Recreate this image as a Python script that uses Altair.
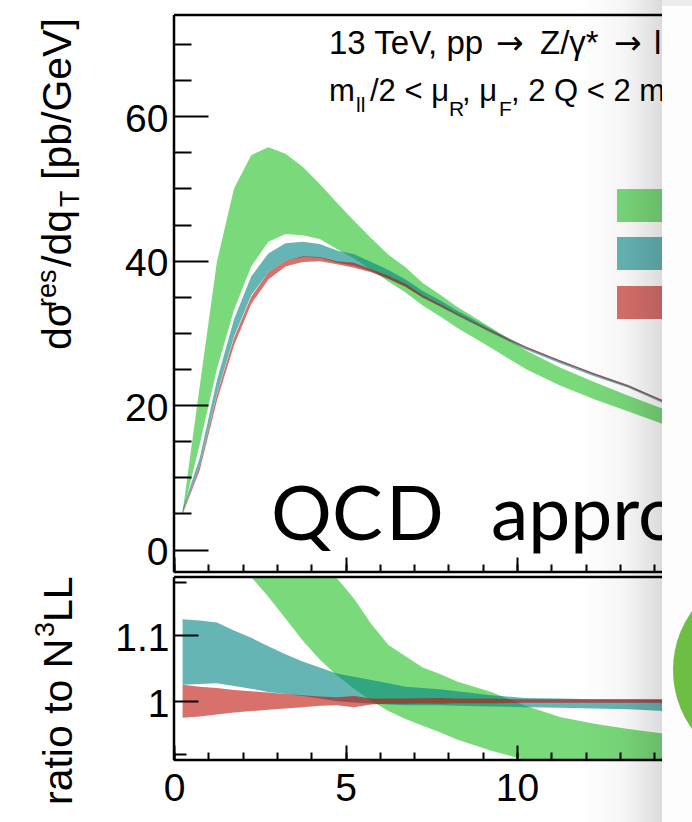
import altair as alt
import pandas as pd

# ---------------- data ----------------
Q = [0.25, 0.75, 1.25, 1.75, 2.25, 2.75, 3.25, 3.75, 4.25, 4.75, 5.25, 5.75,
     6.25, 6.75, 7.25, 7.75, 8.25, 9.25, 10.25, 11.25, 12.25, 13.25, 14.25, 15.25]

# upper panel: d sigma / d qT  [pb/GeV]
GREEN_LO = [4.9, 14.6, 25.0, 33.2, 39.2, 42.6, 43.7, 43.5, 43.0, 41.6, 40.3, 38.7,
            37.1, 35.6, 33.8, 32.3, 30.7, 27.9, 25.0, 22.7, 20.8, 19.1, 17.4, 16.0]
GREEN_HI = [5.2, 22.6, 39.8, 50.0, 54.6, 55.7, 54.8, 53.0, 50.6, 48.0, 45.5, 43.1,
            40.8, 39.1, 36.9, 35.3, 33.6, 30.7, 27.6, 25.2, 23.2, 21.3, 19.5, 18.0]
TEAL_LO = [5.1, 11.6, 21.5, 29.5, 35.2, 38.4, 40.0, 40.5, 40.4, 39.7, 39.3, 38.5,
           37.5, 36.4, 34.9, 33.7, 32.4, 30.0, 27.7, 25.8, 24.0, 22.4, 20.3, 18.8]
TEAL_HI = [5.6, 12.7, 23.4, 31.9, 37.8, 41.0, 42.4, 42.6, 42.3, 41.4, 40.9, 39.8,
           38.7, 37.4, 35.8, 34.5, 33.1, 30.5, 28.1, 26.2, 24.4, 22.8, 20.65, 19.1]
RED_LO = [4.9, 11.0, 20.6, 28.3, 34.0, 37.4, 39.2, 39.8, 39.9, 39.5, 39.0, 38.4,
          37.5, 36.4, 34.9, 33.7, 32.5, 30.1, 27.9, 26.0, 24.2, 22.5, 20.5, 18.9]
RED_HI = [5.1, 11.6, 21.4, 29.3, 35.0, 38.4, 40.0, 40.6, 40.5, 39.9, 39.7, 38.8,
          37.9, 36.8, 35.2, 34.0, 32.7, 30.3, 28.1, 26.2, 24.4, 22.7, 20.7, 19.1]

# lower panel: ratio to N3LL
R_GREEN_LO = [1.60, 1.40, 1.30, 1.24, 1.19, 1.158, 1.125, 1.092, 1.063, 1.039, 1.019, 1.0005,
              0.985, 0.973, 0.963, 0.953, 0.942, 0.925, 0.902, 0.885, 0.875, 0.865, 0.855, 0.848]
R_GREEN_HI = [2.60, 2.10, 1.80, 1.62, 1.50, 1.38, 1.30, 1.25, 1.21, 1.186, 1.155, 1.117,
              1.085, 1.068, 1.051, 1.041, 1.030, 1.014, 0.993, 0.976, 0.966, 0.958, 0.951, 0.946]
R_TEAL_LO = [1.025, 1.026, 1.027, 1.023, 1.019, 1.014, 1.011, 1.008, 1.004, 1.000, 0.998, 0.9965,
             0.995, 0.994, 0.994, 0.994, 0.993, 0.992, 0.991, 0.990, 0.989, 0.988, 0.985, 0.983]
R_TEAL_HI = [1.124, 1.122, 1.119, 1.107, 1.096, 1.083, 1.071, 1.060, 1.051, 1.042, 1.037, 1.032,
             1.027, 1.022, 1.020, 1.018, 1.015, 1.009, 1.005, 1.004, 1.003, 1.003, 1.0025, 1.002]
R_RED_LO = [0.975, 0.977, 0.980, 0.983, 0.985, 0.987, 0.989, 0.991, 0.993, 0.994, 0.991, 0.995,
            0.996, 0.996, 0.9965, 0.996, 0.997, 0.997, 0.9975, 0.9975, 0.9975, 0.9975, 0.9975, 0.9975]
R_RED_HI = [1.025, 1.022, 1.020, 1.017, 1.015, 1.013, 1.011, 1.009, 1.007, 1.006, 1.008, 1.004,
            1.004, 1.004, 1.0045, 1.005, 1.004, 1.004, 1.003, 1.003, 1.003, 1.003, 1.003, 1.003]

X_MAJOR = [0, 5, 10]
X_MINOR = list(range(0, 15))
YU_MAJOR = [0, 20, 40, 60]
YU_MINOR = [5, 10, 15, 25, 30, 35, 45, 50, 55, 65, 70]
YL_MAJOR = [1.0, 1.1]
YL_MINOR = [0.92, 0.94, 0.96, 0.98, 1.02, 1.04, 1.06, 1.08, 1.12, 1.14, 1.16, 1.18]

COL_GREEN, COL_TEAL, COL_RED = "#21c021", "#008484", "#be110a"
ALPHA = 0.6

# ---------------- layout ----------------
W, H = 518, 745
U_TOP, U_BOT = 0, 557
L_TOP, L_BOT = 562, 745
XMAX = 15.10
SANS = "Liberation Sans"
ONE = pd.DataFrame({"k": [0]})

xs = alt.Scale(domain=[0, XMAX], nice=False, zero=False)


def yU():
    return alt.Scale(domain=[-3.1, 74.0], range=[U_BOT, U_TOP], nice=False, zero=False)


def yL():
    return alt.Scale(domain=[0.911, 1.188], range=[L_BOT, L_TOP], nice=False, zero=False, clamp=True)


def band(lo, hi, color, scale_fn):
    df = pd.DataFrame({"q": Q, "lo": lo, "hi": hi})
    return alt.Chart(df).mark_area(color=color, opacity=ALPHA, interpolate="linear").encode(
        x=alt.X("q:Q", scale=xs, axis=None),
        y=alt.Y("lo:Q", scale=scale_fn(), axis=None),
        y2="hi:Q",
    )


def rule(x, y, x2=None, y2=None, width=2.5):
    enc = dict(x=alt.value(x), y=alt.value(y))
    if x2 is not None:
        enc["x2"] = alt.value(x2)
    if y2 is not None:
        enc["y2"] = alt.value(y2)
    return alt.Chart(ONE).mark_rule(color="black", strokeWidth=width).encode(**enc)


def text(t, x, y, size, angle=None, font=SANS):
    kw = dict(text=t, font=font, fontSize=size, align="left", baseline="alphabetic", color="black")
    if angle is not None:
        kw["angle"] = angle
    return alt.Chart(ONE).mark_text(**kw).encode(x=alt.value(x), y=alt.value(y))


def box(x, x2, y, y2, color, opacity=1.0):
    return alt.Chart(ONE).mark_rect(color=color, opacity=opacity).encode(
        x=alt.value(x), x2=alt.value(x2), y=alt.value(y), y2=alt.value(y2))


def yaxis(scale_fn, dom, values, tick, labels, pad=6, fmt="d"):
    ax = alt.Axis(orient="left", values=values, tickSize=tick, offset=-tick, domain=False,
                  grid=False, labels=labels, title=None, tickColor="black", tickWidth=2,
                  labelFont=SANS, labelFontSize=39, labelColor="black", labelPadding=pad,
                  labelOffset=3, format=fmt, zindex=1)
    return alt.Chart(pd.DataFrame({"v": dom})).mark_point(opacity=0).encode(
        y=alt.Y("v:Q", scale=scale_fn(), axis=ax))


def xaxis(orient, offset, tick, values, labels):
    ax = alt.Axis(orient=orient, values=values, tickSize=tick, offset=offset, domain=False,
                  grid=False, labels=labels, title=None, tickColor="black", tickWidth=2,
                  labelFont=SANS, labelFontSize=39, labelColor="black", labelPadding=9,
                  labelFlush=False, format="d", zindex=1)
    return alt.Chart(pd.DataFrame({"v": [0, XMAX]})).mark_point(opacity=0).encode(
        x=alt.X("v:Q", scale=xs, axis=ax))


layers = [
    # bands
    band(GREEN_LO, GREEN_HI, COL_GREEN, yU),
    band(TEAL_LO, TEAL_HI, COL_TEAL, yU),
    band(RED_LO, RED_HI, COL_RED, yU),
    band(R_GREEN_LO, R_GREEN_HI, COL_GREEN, yL),
    band(R_TEAL_LO, R_TEAL_HI, COL_TEAL, yL),
    band(R_RED_LO, R_RED_HI, COL_RED, yL),
    # legend boxes
    box(443, 500, 174, 207, COL_GREEN, ALPHA),
    box(443, 500, 222, 255, COL_TEAL, ALPHA),
    box(443, 500, 271, 304, COL_RED, ALPHA),
    # frames
    rule(0, U_TOP, y2=U_BOT),
    rule(0, U_TOP, x2=W),
    rule(0, U_BOT, x2=W),
    rule(0, L_TOP, y2=L_BOT),
    rule(0, L_TOP, x2=W),
    rule(0, L_BOT, x2=W),
    # axes
    yaxis(yU, [-3.1, 74.0], YU_MAJOR, 34, True, 6, "d"),
    yaxis(yU, [-3.1, 74.0], YU_MINOR, 17, False),
    yaxis(yL, [0.911, 1.188], YL_MAJOR, 24, True, 5, "~g"),
    yaxis(yL, [0.911, 1.188], YL_MINOR, 12, False),
    xaxis("bottom", -15, 15, X_MAJOR, True),
    xaxis("bottom", -8, 8, X_MINOR, False),
    xaxis("top", -U_BOT, 15, X_MAJOR, False),
    xaxis("top", -U_BOT, 8, X_MINOR, False),
    # axis titles
    text("dσ", -103, 335, 41, 270),
    text("res", -118, 292, 27, 270),
    text("/dq", -103, 252, 41, 270),
    text("T", -95, 192, 27, 270),
    text("[pb/GeV]", -103, 165, 41, 270),
    text("ratio to N", -102, 790, 41, 270),
    text("3", -120, 622, 27, 270),
    text("LL", -102, 607, 41, 270),
    # header line 1
    text("13 TeV, pp", 155, 39, 33),
    text("→", 322, 39, 33, font="DejaVu Sans"),
    text("Z/γ*", 366, 39, 33),
    text("→", 440, 39, 33, font="DejaVu Sans"),
    text("l⁺l⁻", 480, 39, 33),
    # header line 2
    text("m", 155, 86, 31),
    text("ll", 182, 97, 21),
    text("/2 < μ", 196, 86, 31),
    text("R", 275, 101, 21),
    text(", μ", 288, 86, 31),
    text("F", 325, 101, 21),
    text(", 2 Q < 2 m", 337, 86, 31),
    # slide text
    text("Q", 97, 525, 76, font="Lato"),
    text("C", 158, 525, 76, font="Lato"),
    text("D", 212, 525, 76, font="Lato"),
    text("appro", 317, 525, 75, font="Lato"),
]

shadow = alt.Chart(ONE).mark_rect(
    fill=alt.Gradient(
        gradient="linear",
        stops=[
            alt.GradientStop(color="rgba(0,0,0,0)", offset=0),
            alt.GradientStop(color="rgba(0,0,0,0.04)", offset=0.55),
            alt.GradientStop(color="rgba(0,0,0,0.14)", offset=1),
        ],
        x1=0, x2=1, y1=0, y2=0,
    )
).encode(x=alt.value(406), x2=alt.value(488), y=alt.value(-15), y2=alt.value(807))

layers += [
    shadow,
    box(488, 540, -9, 807, "#fdfdfd"),
    box(488, 540, -15, -9, "#ececec"),
    alt.Chart(ONE).mark_point(shape="circle", filled=True, size=40804, color="#6fbe44",
                              opacity=1).encode(x=alt.value(600), y=alt.value(655)),
]

chart = (
    alt.layer(*layers)
    .resolve_scale(y="independent")
    .resolve_axis(x="independent", y="independent")
    .properties(
        width=W, height=H,
        autosize=alt.AutoSizeParams(type="none"),
        padding={"left": 174, "top": 15, "right": 0, "bottom": 62},
        background="white",
    )
    .configure_view(stroke=None)
)

chart.save("out.html", embed_options={"renderer": "svg", "actions": False})
